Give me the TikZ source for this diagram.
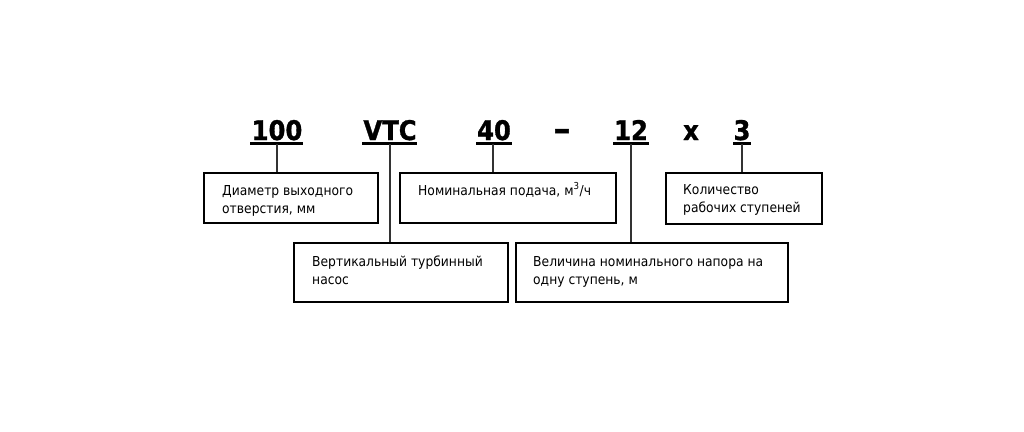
\documentclass[tikz,border=0pt]{standalone}
\usepackage{fontspec}
\setmainfont{DejaVu Sans Condensed}
\newfontfamily\codefont[FakeBold=1.2]{DejaVu Sans Condensed Bold}
\begin{document}
\begin{tikzpicture}[x=1pt,y=-1pt,
  code/.style={font=\fontsize{27}{30}\codefont, inner sep=0pt, anchor=base},
  uline/.style={line width=2.3pt},
  box/.style={draw, line width=1.8pt, inner sep=0pt},
  txt/.style={font=\fontsize{13.7}{18}\selectfont, inner sep=0pt, anchor=base west},
  conn/.style={line width=1.1pt, black!80}]
\useasboundingbox (0,0) rectangle (1024,431);
% code labels
\node[code] (l100) at (277,140) {100};
\node[code] (lvtc) at (390,140) {VTC};
\node[code] (l40) at (494,140) {40};
\node[code] (ldash) at (562,140) {\scalebox{1.4}[1.2]{–}};
\node[code] (l12) at (631,140) {12};
\node[code] (lx) at (691,140) {x};
\node[code] (l3) at (742,140) {3};
% underline points
\coordinate (u100) at (277,143.5);
\coordinate (uvtc) at (390,143.5);
\coordinate (u40) at (493,143.5);
\coordinate (u12) at (631,143.5);
\coordinate (u3) at (742,143.5);
\draw[uline] (250,143.5) -- (303,143.5);
\draw[uline] (362,143.5) -- (417,143.5);
\draw[uline] (476,143.5) -- (512,143.5);
\draw[uline] (613,143.5) -- (649,143.5);
\draw[uline] (733,143.5) -- (751,143.5);
% boxes
\node[box, minimum width=174pt, minimum height=50pt, anchor=north west] (b1) at (203,172) {};
\node[box, minimum width=216pt, minimum height=50pt, anchor=north west] (b2) at (399,172) {};
\node[box, minimum width=156pt, minimum height=51pt, anchor=north west] (b5) at (665,172) {};
\node[box, minimum width=214pt, minimum height=59pt, anchor=north west] (b3) at (293,242) {};
\node[box, minimum width=272pt, minimum height=59pt, anchor=north west] (b4) at (515,242) {};
% texts
\node[txt] (t1a) at (222,195) {Диаметр выходного};
\node[txt] (t1b) at (222,213) {отверстия, мм};
\node[txt] (t2a) at (418,195) {Номинальная подача, м\textsuperscript{3}/ч};
\node[txt] (t5a) at (683,194) {Количество};
\node[txt] (t5b) at (683,212) {рабочих ступеней};
\node[txt] (t3a) at (312,266) {Вертикальный турбинный};
\node[txt] (t3b) at (312,284) {насос};
\node[txt] (t4a) at (533,266) {Величина номинального напора на};
\node[txt] (t4b) at (533,284) {одну ступень, м};
% connectors
\draw[conn] (u100) -- (u100 |- b1.north);
\draw[conn] (uvtc) -- (uvtc |- b3.north);
\draw[conn] (u40) -- (u40 |- b2.north);
\draw[conn] (u12) -- (u12 |- b4.north);
\draw[conn] (u3) -- (u3 |- b5.north);
\end{tikzpicture}
\end{document}
